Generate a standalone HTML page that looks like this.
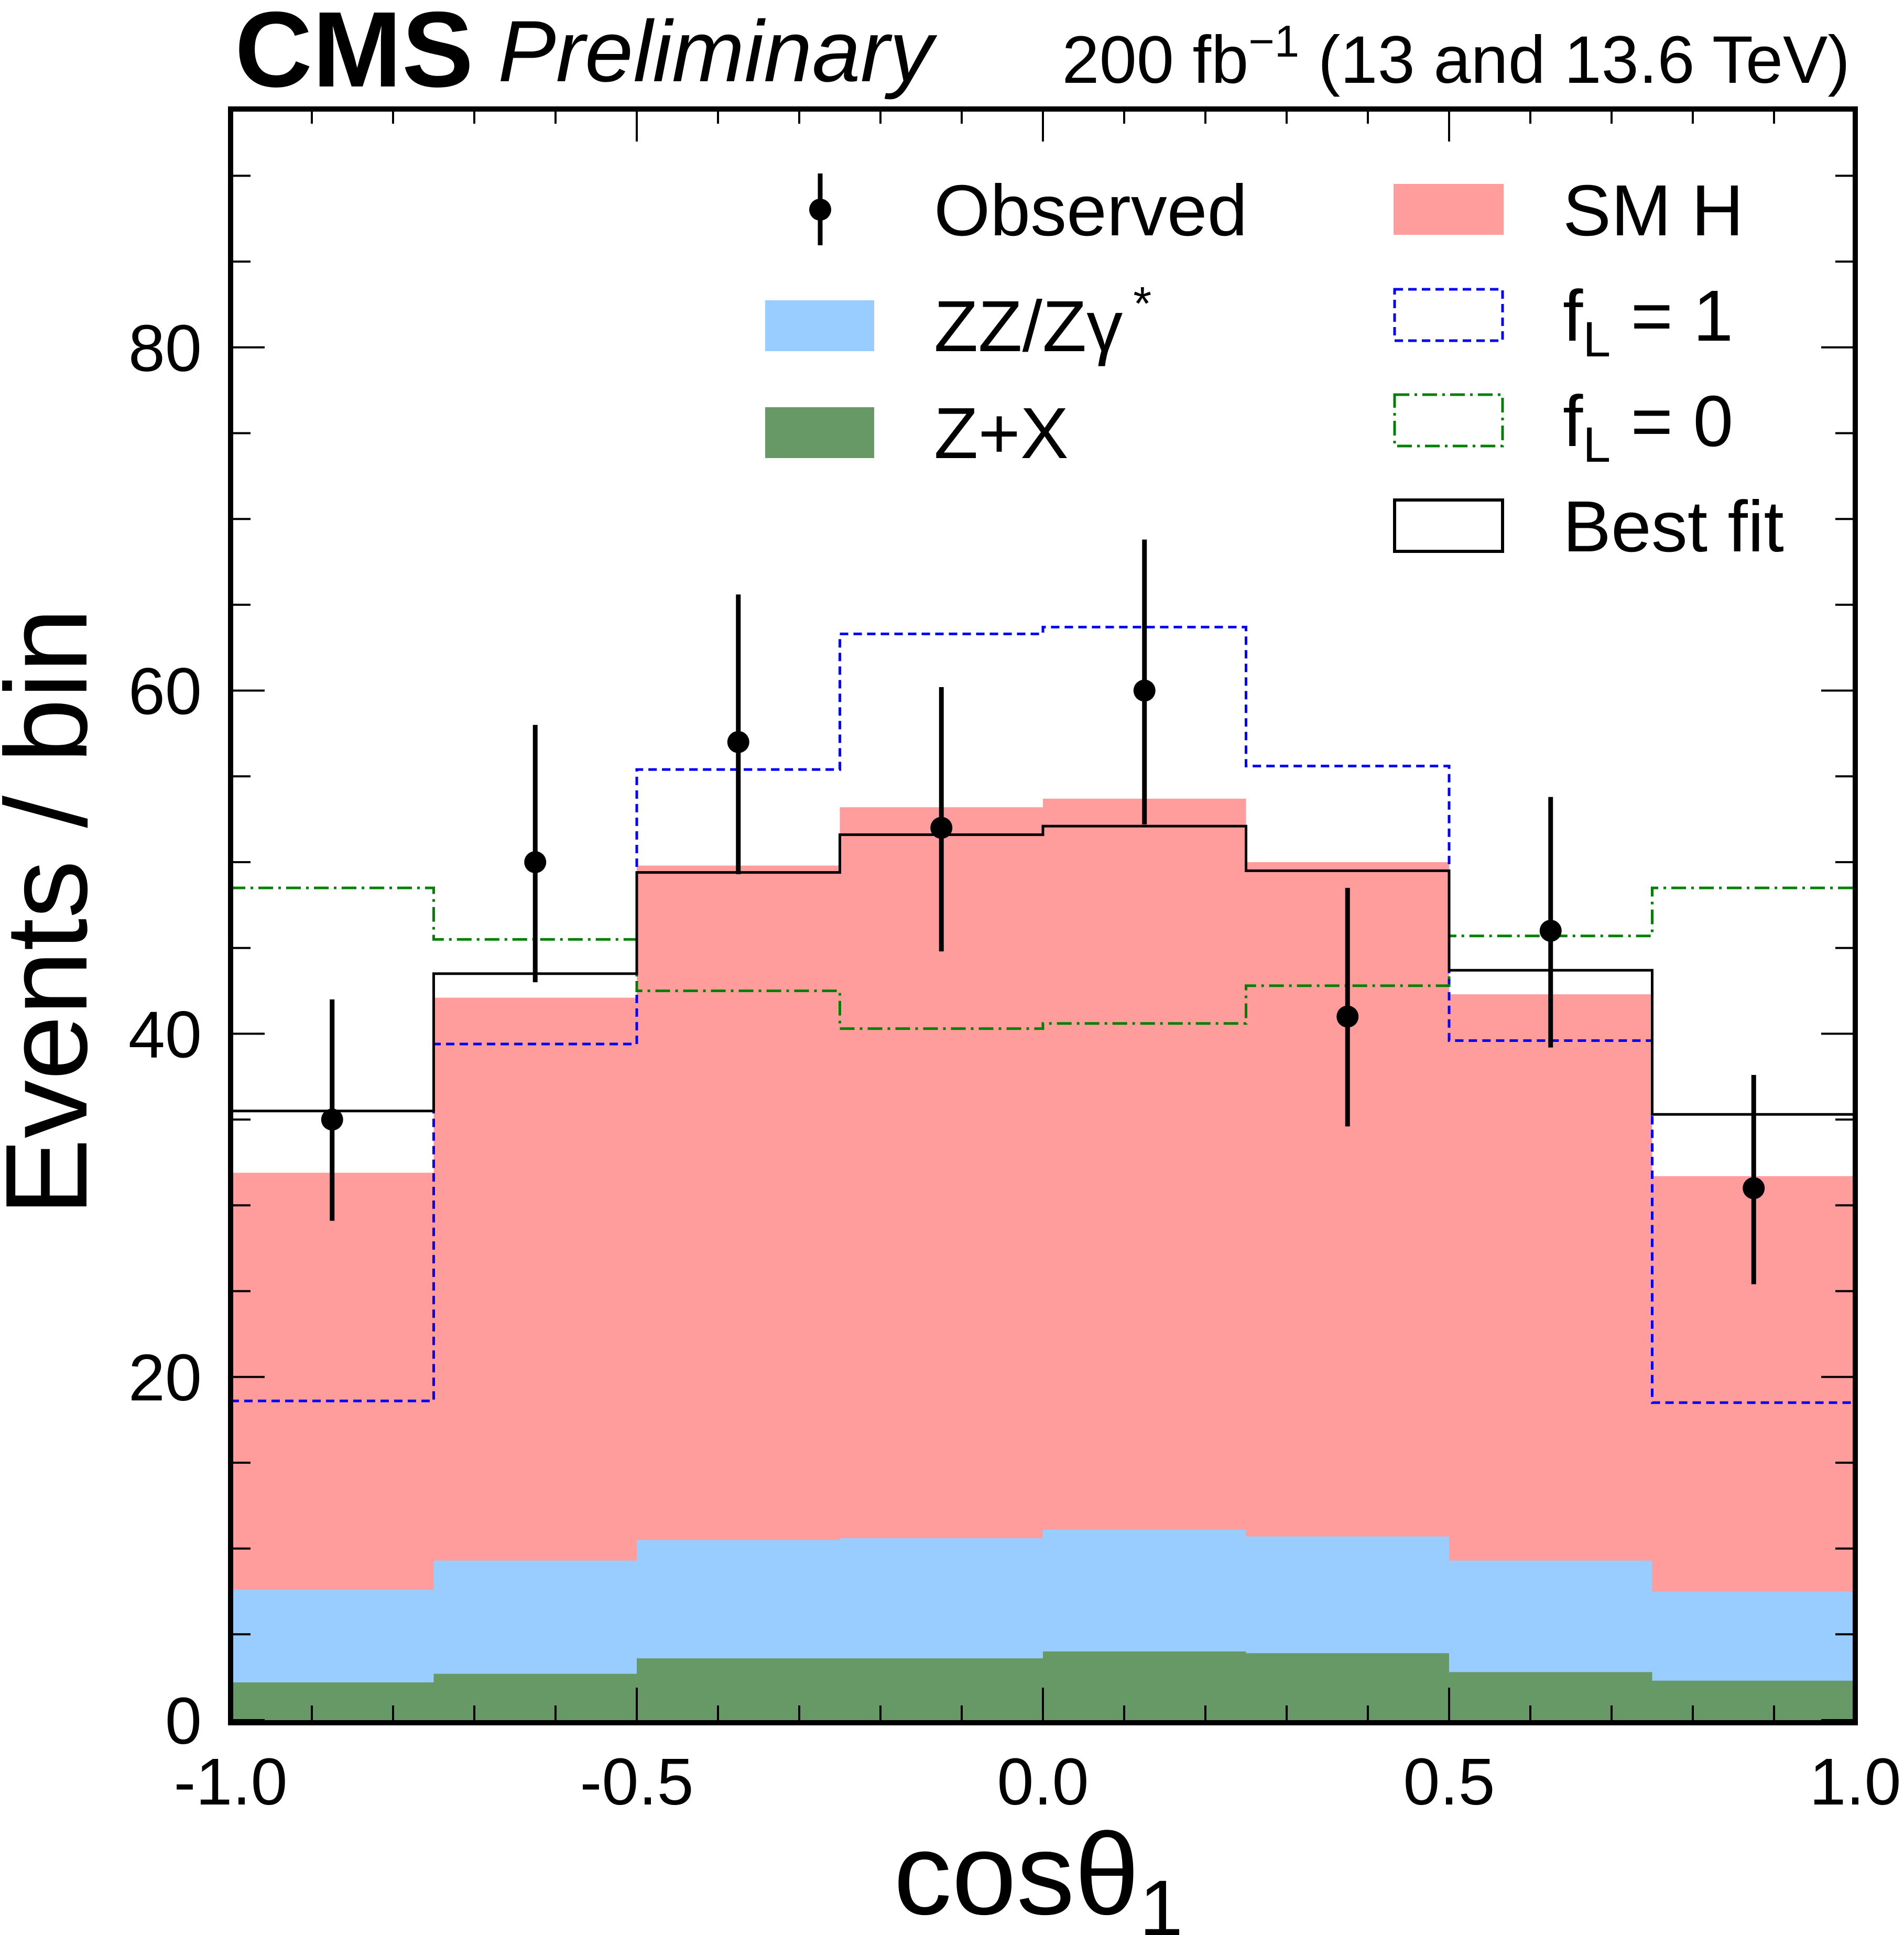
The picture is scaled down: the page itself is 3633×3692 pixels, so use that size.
<!DOCTYPE html>
<html><head><meta charset="utf-8"><style>
html,body{margin:0;padding:0;background:#fff}
svg{display:block;font-family:"Liberation Sans",Arial,sans-serif}
</style></head><body>
<svg id="chart" width="3633" height="3692" viewBox="0 0 3633 3692" xmlns="http://www.w3.org/2000/svg">
<g id="fills"></g>
<g id="lines"></g>
<g id="points"></g>
<g id="axes"></g>
<rect x="440" y="208" width="3100" height="3079" fill="none" stroke="#000" stroke-width="10"/>
<text x="448" y="165" font-size="205" font-weight="bold">CMS</text>
<text x="950" y="155" font-size="166" font-style="italic">Preliminary</text>
<text x="3530" y="158" font-size="128" text-anchor="end">200 fb<tspan dy="-50" font-size="85">−1</tspan><tspan dy="50"> (13 and 13.6 TeV)</tspan></text>
<text transform="translate(165,1740) rotate(-90)" font-size="222" text-anchor="middle">Events / bin</text>
<text x="1705" y="3652" font-size="222">cosθ<tspan dy="40" font-size="150">1</tspan></text>
<g font-size="138">
  <line x1="1565" y1="331" x2="1565" y2="468" stroke="#000" stroke-width="9"/>
  <circle cx="1565" cy="400" r="21"/>
  <text x="1782" y="449">Observed</text>
  <rect x="1460" y="573" width="208" height="97" fill="#99ccff"/>
  <text x="1782" y="670">ZZ/Zγ<tspan dy="-60" font-size="90" dx="20">*</tspan></text>
  <rect x="1460" y="777" width="208" height="97" fill="#669966"/>
  <text x="1782" y="874">Z+X</text>
  <rect x="2659" y="351" width="210" height="97" fill="#ff9c9c"/>
  <text x="2982" y="449">SM H</text>
  <rect x="2661" y="552" width="206" height="98" fill="none" stroke="#0000ff" stroke-width="5" stroke-dasharray="16,10"/>
  <text x="2982" y="650">f<tspan dy="30" font-size="95">L</tspan><tspan dy="-30"> = 1</tspan></text>
  <rect x="2661" y="753" width="206" height="98" fill="none" stroke="#008000" stroke-width="5" stroke-dasharray="28,10,5,10"/>
  <text x="2982" y="851">f<tspan dy="30" font-size="95">L</tspan><tspan dy="-30"> = 0</tspan></text>
  <rect x="2661" y="954" width="206" height="98" fill="none" stroke="#000" stroke-width="6"/>
  <text x="2982" y="1052">Best fit</text>
</g>
</svg>
<script>
const binEdges = [-1.0,-0.75,-0.5,-0.25,0.0,0.25,0.5,0.75,1.0];
const zxValues = [2.2,2.7,3.6,3.6,4.0,3.9,2.8,2.3];
const zzStackTop = [7.6,9.3,10.5,10.6,11.1,10.7,9.3,7.5];
const smhStackTop = [31.9,42.1,49.8,53.2,53.7,50.0,42.3,31.7];
const bestFit = [35.5,43.5,49.4,51.6,52.1,49.5,43.7,35.3];
const fl1Values = [18.6,39.4,55.4,63.3,63.7,55.6,39.6,18.5];
const fl0Values = [48.5,45.5,42.5,40.3,40.6,42.8,45.7,48.5];
const observed = [35,50,57,52,60,41,46,31];
const obsUp = [42.0,58.0,65.6,60.2,68.8,48.5,53.8,37.6];
const obsDown = [29.1,43.0,49.3,44.8,52.2,34.6,39.2,25.4];
const yTicks = [0,20,40,60,80];
const xTicks = [-1.0,-0.5,0.0,0.5,1.0];
const xTickLabels = ["-1.0","-0.5","0.0","0.5","1.0"];

const X0=440,X1=3540,Y0=3282,YPX=32.74;
const sx=v=>X0+(v+1)/2*(X1-X0);
const sy=v=>Y0-v*YPX;
const NS="http://www.w3.org/2000/svg";
function mk(tag,parent,attrs){const e=document.createElementNS(NS,tag);for(const k in attrs)e.setAttribute(k,attrs[k]);parent.appendChild(e);return e;}
const fills=document.getElementById('fills'),lines=document.getElementById('lines'),pts=document.getElementById('points'),axes=document.getElementById('axes');

function stepPath(vals){let d='';for(let i=0;i<vals.length;i++){const a=sx(binEdges[i]),b=sx(binEdges[i+1]),y=sy(vals[i]);d+=(i===0?'M':'L')+a+','+y+'L'+b+','+y;}return d;}
function fillPath(vals){return stepPath(vals)+'L'+sx(1)+','+sy(0)+'L'+sx(-1)+','+sy(0)+'Z';}

let p=mk('path',fills,{d:fillPath(smhStackTop),fill:'#ff9c9c'});


p=mk('path',fills,{d:fillPath(zzStackTop),fill:'#99ccff'});


p=mk('path',fills,{d:fillPath(zxValues),fill:'#669966'});



p=mk('path',lines,{d:stepPath(fl1Values),fill:'none',stroke:'#0000ff','stroke-width':5,'stroke-dasharray':'16,10'});


p=mk('path',lines,{d:stepPath(fl0Values),fill:'none',stroke:'#008000','stroke-width':5,'stroke-dasharray':'28,10,5,10'});


p=mk('path',lines,{d:stepPath(bestFit),fill:'none',stroke:'#000','stroke-width':5});



for(let i=0;i<observed.length;i++){
  const cx=sx((binEdges[i]+binEdges[i+1])/2);
  const l=mk('line',pts,{x1:cx,x2:cx,y1:sy(obsUp[i]),y2:sy(obsDown[i]),stroke:'#000','stroke-width':9});
  
  
  const c=mk('circle',pts,{cx:cx,cy:sy(observed[i]),r:21,fill:'#000'});
  
  
}

// y ticks
for(let v=0;v<=90;v+=5){
  const y=sy(v),len=(v%20===0)?65:38;
  let t=mk('line',axes,{x1:X0,x2:X0+len,y1:y,y2:y,stroke:'#000','stroke-width':4});
  
  
  t=mk('line',axes,{x1:X1-len,x2:X1,y1:y,y2:y,stroke:'#000','stroke-width':4});
  
  
}
yTicks.forEach(v=>{
  const t=mk('text',axes,{x:385,y:sy(v)+45,'font-size':126,'text-anchor':'end'});
  t.textContent=String(v);
  
  
});
// x ticks
for(let k=0;k<=20;k++){
  const v=-1+k*0.1,x=sx(v),len=(k%5===0)?62:28;
  let t=mk('line',axes,{x1:x,x2:x,y1:Y0,y2:Y0-len,stroke:'#000','stroke-width':4});
  
  
  t=mk('line',axes,{x1:x,x2:x,y1:208,y2:208+len,stroke:'#000','stroke-width':4});
  
  
}
xTicks.forEach((v,i)=>{
  const t=mk('text',axes,{x:sx(v),y:3443,'font-size':126,'text-anchor':'middle'});
  t.textContent=xTickLabels[i];
  
  
});
</script>
</body></html>
